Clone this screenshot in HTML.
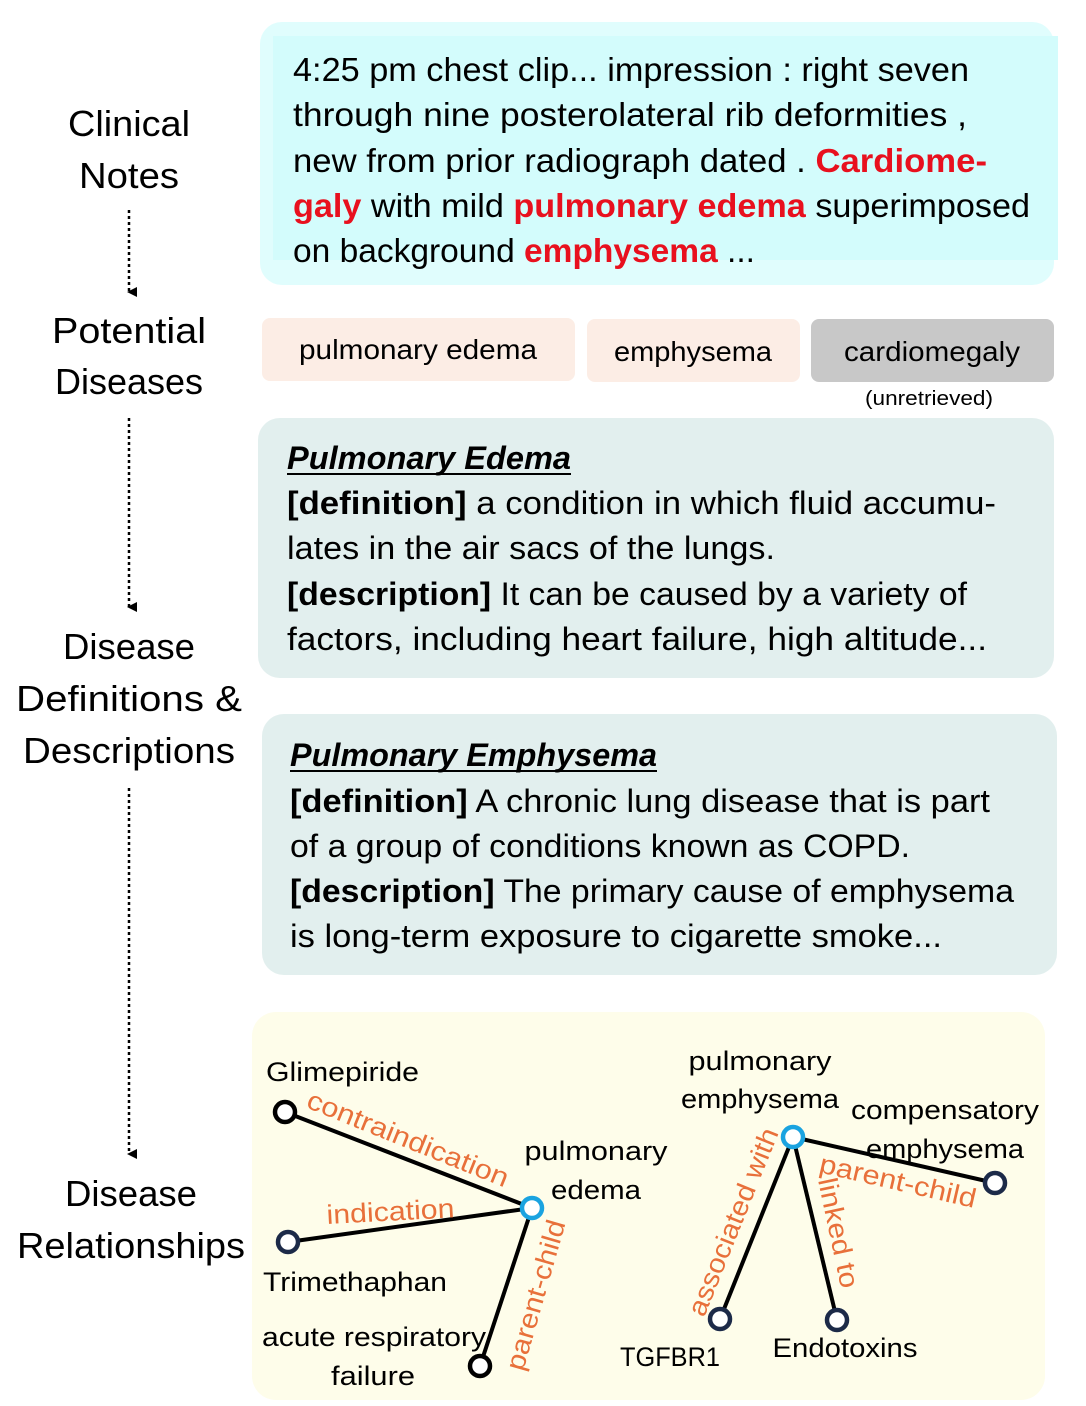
<!DOCTYPE html>
<html><head><meta charset="utf-8"><style>
html,body{margin:0;padding:0;background:#fff}
svg{display:block}
text{font-family:"Liberation Sans",sans-serif}
</style></head><body>
<svg width="1086" height="1406" viewBox="0 0 1086 1406" xmlns="http://www.w3.org/2000/svg">
<defs>
<marker id="ah" markerWidth="10" markerHeight="10" refX="5" refY="8" orient="auto" markerUnits="userSpaceOnUse">
<path d="M0,0 L10,0 L5,10 z" fill="#000"/></marker>
</defs>
<!-- left labels -->
<g font-size="36" text-anchor="middle" fill="#000">
<text x="129" y="136" textLength="122" lengthAdjust="spacingAndGlyphs">Clinical</text>
<text x="129" y="188" textLength="100" lengthAdjust="spacingAndGlyphs">Notes</text>
<text x="129" y="343" textLength="154" lengthAdjust="spacingAndGlyphs">Potential</text>
<text x="129" y="394" textLength="148" lengthAdjust="spacingAndGlyphs">Diseases</text>
<text x="129" y="659" textLength="132" lengthAdjust="spacingAndGlyphs">Disease</text>
<text x="129" y="711" textLength="226" lengthAdjust="spacingAndGlyphs">Definitions &amp;</text>
<text x="129" y="763" textLength="212" lengthAdjust="spacingAndGlyphs">Descriptions</text>
<text x="131" y="1206" textLength="132" lengthAdjust="spacingAndGlyphs">Disease</text>
<text x="131" y="1258" textLength="228" lengthAdjust="spacingAndGlyphs">Relationships</text>
</g>
<g stroke="#000" stroke-width="2.5" stroke-dasharray="3,3" fill="none">
<line x1="129" y1="210" x2="129" y2="292" marker-end="url(#ah)"/>
<line x1="129" y1="418" x2="129" y2="607" marker-end="url(#ah)"/>
<line x1="129" y1="788" x2="129" y2="1154" marker-end="url(#ah)"/>
</g>
<!-- top box -->
<rect x="260" y="22" width="794" height="263" rx="22" fill="#e0fdfd"/>
<rect x="273" y="36" width="785" height="224" fill="#d3fcfc"/>
<g font-size="33" fill="#000">
<text x="293" y="81" textLength="676" lengthAdjust="spacingAndGlyphs">4:25 pm chest clip... impression : right seven</text>
<text x="293" y="126" textLength="674" lengthAdjust="spacingAndGlyphs">through nine posterolateral rib deformities ,</text>
<text x="293" y="172" textLength="694" lengthAdjust="spacingAndGlyphs">new from prior radiograph dated . <tspan fill="#e8101e" font-weight="bold">Cardiome-</tspan></text>
<text x="293" y="217" textLength="737" lengthAdjust="spacingAndGlyphs"><tspan fill="#e8101e" font-weight="bold">galy</tspan> with mild <tspan fill="#e8101e" font-weight="bold">pulmonary edema</tspan> superimposed</text>
<text x="293" y="262" textLength="462" lengthAdjust="spacingAndGlyphs">on background <tspan fill="#e8101e" font-weight="bold">emphysema</tspan> ...</text>
</g>
<!-- pills -->
<rect x="262" y="318" width="313" height="63" rx="8" fill="#fcede5"/>
<rect x="587" y="319" width="213" height="63" rx="8" fill="#fcede5"/>
<rect x="811" y="319" width="243" height="63" rx="8" fill="#c8c8c8"/>
<g font-size="28" text-anchor="middle" fill="#000">
<text x="418" y="359" textLength="238" lengthAdjust="spacingAndGlyphs">pulmonary edema</text>
<text x="693" y="361" textLength="158" lengthAdjust="spacingAndGlyphs">emphysema</text>
<text x="932" y="361" textLength="176" lengthAdjust="spacingAndGlyphs">cardiomegaly</text>
<text x="929" y="405" font-size="20" textLength="128" lengthAdjust="spacingAndGlyphs">(unretrieved)</text>
</g>
<!-- definition boxes -->
<rect x="258" y="418" width="796" height="260" rx="22" fill="#e2efee"/>
<rect x="262" y="714" width="795" height="261" rx="22" fill="#e2efee"/>
<g font-size="32" fill="#000">
<text x="287" y="469" font-weight="bold" font-style="italic" textLength="284" lengthAdjust="spacingAndGlyphs">Pulmonary Edema</text>
<line x1="287" y1="474" x2="571" y2="474" stroke="#000" stroke-width="2"/>
<text x="287" y="514" textLength="709" lengthAdjust="spacingAndGlyphs"><tspan font-weight="bold">[definition]</tspan> a condition in which fluid accumu-</text>
<text x="287" y="559" textLength="488" lengthAdjust="spacingAndGlyphs">lates in the air sacs of the lungs.</text>
<text x="287" y="605" textLength="680" lengthAdjust="spacingAndGlyphs"><tspan font-weight="bold">[description]</tspan> It can be caused by a variety of</text>
<text x="287" y="650" textLength="700" lengthAdjust="spacingAndGlyphs">factors, including heart failure, high altitude...</text>

<text x="290" y="766" font-weight="bold" font-style="italic" textLength="367" lengthAdjust="spacingAndGlyphs">Pulmonary Emphysema</text>
<line x1="290" y1="771" x2="657" y2="771" stroke="#000" stroke-width="2"/>
<text x="290" y="812" textLength="700" lengthAdjust="spacingAndGlyphs"><tspan font-weight="bold">[definition]</tspan> A chronic lung disease that is part</text>
<text x="290" y="857" textLength="620" lengthAdjust="spacingAndGlyphs">of a group of conditions known as COPD.</text>
<text x="290" y="902" textLength="724" lengthAdjust="spacingAndGlyphs"><tspan font-weight="bold">[description]</tspan> The primary cause of emphysema</text>
<text x="290" y="947" textLength="652" lengthAdjust="spacingAndGlyphs">is long-term exposure to cigarette smoke...</text>
</g>
<!-- relationships -->
<rect x="252" y="1012" width="793" height="388" rx="24" fill="#fefdea"/>
<g stroke="#000" stroke-width="4">
<line x1="285" y1="1112" x2="532" y2="1208"/>
<line x1="288" y1="1242" x2="532" y2="1208"/>
<line x1="480" y1="1366" x2="532" y2="1208"/>
<line x1="793" y1="1137" x2="995" y2="1183"/>
<line x1="793" y1="1137" x2="720" y2="1319"/>
<line x1="793" y1="1137" x2="837" y2="1320"/>
</g>
<g fill="#fff" stroke-width="4.5">
<circle cx="285" cy="1112" r="10" stroke="#000"/>
<circle cx="288" cy="1242" r="10" stroke="#1c2a48"/>
<circle cx="480" cy="1366" r="10" stroke="#000"/>
<circle cx="532" cy="1208" r="10" stroke="#1aa3e0"/>
<circle cx="793" cy="1137" r="10" stroke="#1aa3e0"/>
<circle cx="995" cy="1183" r="10" stroke="#1c2a48"/>
<circle cx="720" cy="1319" r="10" stroke="#1c2a48"/>
<circle cx="837" cy="1320" r="10" stroke="#1c2a48"/>
</g>
<g font-size="27" fill="#000">
<text x="266" y="1081" textLength="153" lengthAdjust="spacingAndGlyphs">Glimepiride</text>
<text x="596" y="1160" text-anchor="middle" textLength="143" lengthAdjust="spacingAndGlyphs">pulmonary</text>
<text x="596" y="1199" text-anchor="middle" textLength="90" lengthAdjust="spacingAndGlyphs">edema</text>
<text x="263" y="1291" textLength="184" lengthAdjust="spacingAndGlyphs">Trimethaphan</text>
<text x="262" y="1346" textLength="224" lengthAdjust="spacingAndGlyphs">acute respiratory</text>
<text x="373" y="1385" text-anchor="middle" textLength="84" lengthAdjust="spacingAndGlyphs">failure</text>
<text x="760" y="1070" text-anchor="middle" textLength="143" lengthAdjust="spacingAndGlyphs">pulmonary</text>
<text x="760" y="1108" text-anchor="middle" textLength="158" lengthAdjust="spacingAndGlyphs">emphysema</text>
<text x="945" y="1119" text-anchor="middle" textLength="188" lengthAdjust="spacingAndGlyphs">compensatory</text>
<text x="945" y="1158" text-anchor="middle" textLength="158" lengthAdjust="spacingAndGlyphs">emphysema</text>
<text x="670" y="1366" text-anchor="middle" textLength="100" lengthAdjust="spacingAndGlyphs">TGFBR1</text>
<text x="845" y="1357" text-anchor="middle" textLength="145" lengthAdjust="spacingAndGlyphs">Endotoxins</text>
</g>
<g font-size="27" fill="#e8703a">
<text transform="translate(305,1107) rotate(22)" textLength="215" lengthAdjust="spacingAndGlyphs">contraindication</text>
<text transform="translate(327,1224) rotate(-3)" textLength="128" lengthAdjust="spacingAndGlyphs">indication</text>
<text transform="translate(523,1372) rotate(-74)" textLength="155" lengthAdjust="spacingAndGlyphs">parent-child</text>
<text transform="translate(704,1318) rotate(-68)" textLength="200" lengthAdjust="spacingAndGlyphs">associated with</text>
<text transform="translate(818,1180) rotate(78)" textLength="112" lengthAdjust="spacingAndGlyphs">linked to</text>
<text transform="translate(818,1172) rotate(13)" textLength="160" lengthAdjust="spacingAndGlyphs">parent-child</text>
</g>
</svg>
</body></html>
